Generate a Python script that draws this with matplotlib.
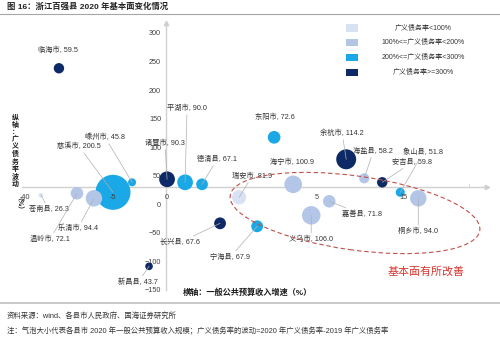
import matplotlib
matplotlib.use("Agg")
import matplotlib.pyplot as plt
from matplotlib.patches import Ellipse, Rectangle
from matplotlib.lines import Line2D

plt.rcParams['font.family'] = ['Liberation Sans', 'Noto Sans CJK SC']

# ---------------- data ----------------
names = ['临海市', '慈溪市', '嵊州市', '诸暨市', '平湖市', '德清县', '苍南县', '温岭市',
         '乐清市', '新昌县', '长兴县', '宁海县', '瑞安市', '海宁市', '嘉善县', '义乌市',
         '东阳市', '余杭市', '海盐县', '安吉县', '象山县', '桐乡市']
growth = [-10.1, -5.0, -3.2, 0.1, 1.8, 3.4, -11.8, -8.4,
          -6.8, -1.6, 5.1, 8.6, 6.9, 12.0, 15.4, 13.7,
          10.2, 17.0, 18.7, 20.4, 22.1, 23.8]
debt_change = [238.2, 21.0, 38.5, 43.8, 38.5, 35.0, 15.8, 19.3,
               10.5, -108.6, -33.3, -38.5, 12.3, 35.0, 5.3, -19.3,
               117.3, 78.8, 45.5, 38.5, 21.0, 10.5]
revenue = [59.5, 200.5, 45.8, 90.3, 90.0, 67.1, 26.3, 72.1,
           94.4, 43.7, 67.6, 67.9, 81.9, 100.9, 71.8, 106.0,
           72.6, 114.2, 58.2, 59.8, 51.8, 94.0]
debt_class = [3, 2, 2, 3, 2, 2, 0, 1,
              1, 3, 3, 2, 0, 1, 1, 1,
              2, 3, 1, 3, 2, 1]
class_labels = ['广义债务率<100%', '100%<=广义债务率<200%',
                '200%<=广义债务率<300%', '广义债务率>=300%']
y_ticks = [-150, -100, -50, 0, 50, 100, 150, 200, 250, 300]
x_tick_labels = ['-40', '-5', '0', '5', '15']
x_tick_pos = [-13.3, -5.0, 0.1, 14.2, 22.4]

# ---------------- style / layout ----------------
W, H, DPI = 500, 337, 100
class_colors = ['#D9E2F3', '#B4C6E7', '#1AA8E6', '#0E2A66']
# label offsets in pixels (right, up) and whether a leader line is drawn
label_offsets = [(-1, 18, False), (-34, 46, True), (-27, 45, True), (-2, 36, True),
                 (2, 74, True), (15, 25, True), (8, -14, True), (-27, -46, True),
                 (-16, -30, True), (-11, -16, True), (-40, -19, True), (-27, -31, True),
                 (13, 21, True), (-1, 22, False), (33, -13, True), (0, -24, True),
                 (1, 20, False), (-4, 26, True), (9, 27, True), (30, 20, True),
                 (23, 40, True), (0, -33, True)]


def fx(px):
    return px / W


def fy(py):
    return 1 - py / H


fig = plt.figure(figsize=(W / DPI, H / DPI), dpi=DPI, facecolor='white')
ax = fig.add_axes([0, 0, 1, 1])
x0_px, xs = 166.0, 10.6
y0_px, ys = 204.3, 0.5711
ax.set_xlim(-x0_px / xs, (W - x0_px) / xs)
ax.set_ylim(-(H - y0_px) / ys, y0_px / ys)
ax.patch.set_alpha(0)

axis_col = '#D0D0D0'
for s in ['top', 'right']:
    ax.spines[s].set_visible(False)
ax.spines['left'].set_position(('data', 0))
ax.spines['bottom'].set_position(('data', 30))
ax.spines['left'].set_bounds(-150, 318)
ax.spines['bottom'].set_bounds(-13.6, 30.3)
for s in ['left', 'bottom']:
    ax.spines[s].set_color(axis_col)
    ax.spines[s].set_linewidth(1.0)
ax.plot([0], [318], marker='^', ms=3.2, color=axis_col, clip_on=False)
ax.plot([30.3], [30], marker='>', ms=3.2, color=axis_col, clip_on=False)
ax.plot([28.6, 28.6], [30, 35], color=axis_col, lw=0.6)
ax.set_xticks([])
ax.set_yticks(y_ticks)
ax.tick_params(axis='y', length=0, pad=3.5, labelsize=5.2, labelcolor='#404040')

for xl, xp in zip(x_tick_labels, x_tick_pos):
    ax.text(xp, 30 - 17.5, xl, fontsize=5.2, color='#404040', ha='center', va='center', zorder=6)

# bubbles: diameter proportional to revenue
r_px = [0.0873 * v for v in revenue]
sizes = [(2 * r * 72 / DPI) ** 2 for r in r_px]
cols = [class_colors[c] for c in debt_class]
ax.scatter(growth, debt_change, s=sizes, c=cols, linewidths=0, zorder=3)

for n, gx, dy, v, (ox, oy, line) in zip(names, growth, debt_change, revenue, label_offsets):
    ap = dict(arrowstyle='-', color='#B0B0B0', lw=0.5, shrinkA=0, shrinkB=0) if line else None
    ax.annotate(f'{n}, {v:.1f}', xy=(gx, dy), xytext=(ox, oy), textcoords='offset pixels',
                fontsize=5.2, color='#333333', ha='center', va='center',
                arrowprops=ap, zorder=5)

# dashed ellipse "基本面有所改善"
ell = Ellipse((3.55, (H - 213) / DPI), 2.52, 0.74, angle=-8,
              transform=fig.dpi_scale_trans, fill=False,
              edgecolor='#C0504D', lw=0.8, ls=(0, (4, 2.5)), zorder=4)
fig.add_artist(ell)
fig.text(fx(426), fy(271), '基本面有所改善', fontsize=7.9, color='#D7352F',
         ha='center', va='center')

# axis titles
fig.text(fx(247), fy(293), '横轴：一般公共预算收入增速（%）', fontsize=5.9,
         fontweight='bold', ha='center', va='center', color='#1a1a1a')
fig.text(fx(15), fy(151), '\n'.join('纵轴：广义债务率波动'), fontsize=5.0,
         fontweight='bold', ha='center', va='center', linespacing=1.08, color='#1a1a1a')
fig.text(fx(15), fy(207), '（%）', fontsize=5.0, fontweight='bold', rotation=270,
         ha='center', va='center', color='#1a1a1a')

# legend (centered texts)
for i, (lab, col) in enumerate(zip(class_labels, class_colors)):
    py = 28 + i * 14.7
    fig.add_artist(Rectangle((fx(346), fy(py + 3.5)), 12 / W, 7 / H,
                             transform=fig.transFigure, facecolor=col, edgecolor='none'))
    fig.text(fx(423), fy(py), lab, fontsize=5.0, color='#333333', ha='center', va='center')

# title and footer
fig.text(fx(7), fy(7), '图 16：浙江百强县 2020 年基本面变化情况', fontsize=6.0,
         fontweight='bold', ha='left', va='center', color='#222222')
fig.add_artist(Line2D([0, 1], [fy(13.5), fy(13.5)], transform=fig.transFigure,
                      color='#A6A6A6', lw=0.8))
fig.add_artist(Line2D([0, 1], [fy(303), fy(303)], transform=fig.transFigure,
                      color='#C8C8C8', lw=1.4))
fig.text(fx(7), fy(316), '资料来源：wind、各县市人民政府、国海证券研究所', fontsize=5.3,
         ha='left', va='center', color='#333333')
fig.text(fx(7), fy(331), '注：气泡大小代表各县市 2020 年一般公共预算收入规模；广义债务率的波动=2020 年广义债务率-2019 年广义债务率',
         fontsize=5.3, ha='left', va='center', color='#333333')

fig.savefig('out.png', dpi=DPI, facecolor='white')
